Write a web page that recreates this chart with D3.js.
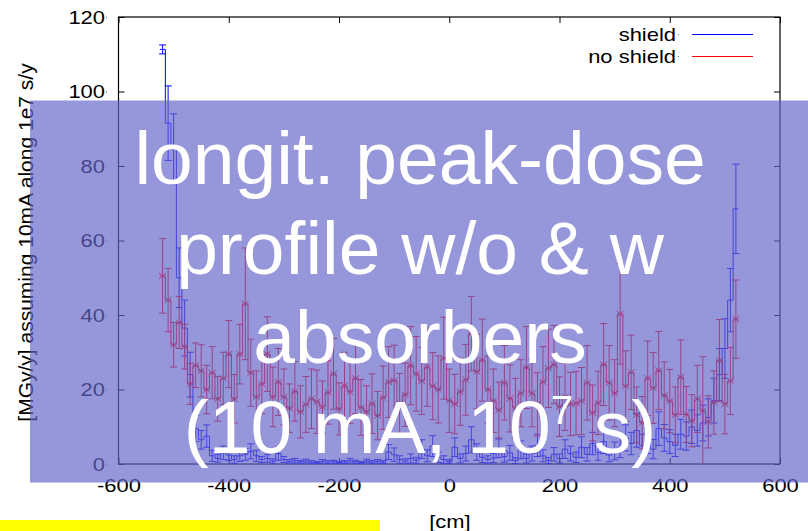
<!DOCTYPE html>
<html>
<head>
<meta charset="utf-8">
<script src="https://cdn.jsdelivr.net/npm/d3@7"></script>
<style>
  body { margin: 0; background: #fff; }
  svg { display: block; }
  text { font-family: "Liberation Sans", Arial, Helvetica, sans-serif; }
</style>
</head>
<body>
<svg id="chart" width="808" height="531"></svg>
<script>
// Bin centres along the beam line [cm]
const positions = [
  -520,-510,-500,-490,-480,-470,-460,-450,-440,-430,
  -420,-410,-400,-390,-380,-370,-360,-350,-340,-330,
  -320,-310,-300,-290,-280,-270,-260,-250,-240,-230,
  -220,-210,-200,-190,-180,-170,-160,-150,-140,-130,
  -120,-110,-100,-90,-80,-70,-60,-50,-40,-30,
  -20,-10,0,10,20,30,40,50,60,70,
  80,90,100,110,120,130,140,150,160,170,
  180,190,200,210,220,230,240,250,260,270,
  280,290,300,310,320,330,340,350,360,370,
  380,390,400,410,420,430,440,450,460,470,
  480,490,500,510,520
];

// Peak dose with absorbers [MGy/y]
const shieldDose = [
  111.3,91.5,84.5,50,36.5,24,9.5,6.5,7.5,2.2,
  1.5,3,2.4,1.2,2.2,2.6,3.4,2.2,1.2,1.5,
  0.8,2.8,1.2,0.7,0.9,0.6,0.8,0.5,0.4,0.7,
  0.5,0.6,0.4,0.5,0.9,0.6,0.4,0.8,0.5,0.7,
  0.5,3.2,2.5,1.2,0.8,1.5,1,4,2.2,4.8,
  1.8,1.2,0.6,4.5,1.5,2.8,6.5,3.2,1.8,1.2,
  1.6,4.2,2,3,0.9,3.8,1.5,2.8,5,2.2,
  0.9,2.6,1.5,4,2.8,1.8,4.5,2.6,5.5,3,
  6,2.4,3.5,4.5,7,5.5,9,5,6.2,4,
  9.5,7,6,5,8,7.5,10,9,11,12.5,
  17,24,31,44,68.5
];
const shieldErr = [
  1.2,10,9.5,8,7.5,6,3.5,2.5,3,1.5,
  1,1.8,1.5,1,1.5,1.6,2,1.5,0.8,1,
  0.6,1.8,0.8,0.5,0.6,0.4,0.5,0.4,0.3,0.5,
  0.4,0.4,0.3,0.4,0.6,0.4,0.3,0.5,0.4,0.5,
  0.4,2,1.8,1,0.6,1.2,0.8,2.5,1.6,2.8,
  1.4,1,0.5,2.5,1.2,2,3.5,2.2,1.4,1,
  1.2,2.5,1.5,2,0.8,2.4,1.2,2,3,1.6,
  0.8,1.8,1.2,2.5,2,1.4,2.8,1.8,3,2,
  3.2,1.8,2.4,2.8,3.5,3,4.5,3,3.4,2.6,
  4.5,3.6,3.2,3,4,3.8,4.5,4.2,4.8,5,
  6,7,8,8.5,12
];

// Peak dose without absorbers [MGy/y]
const noShieldDose = [
  50.5,44,32,38,31.5,21.5,26.5,25,20,24.5,
  17.5,23,29.5,17.5,29.5,43,24.5,18,21.5,29.5,
  18,22,18,15,19.5,14,16,17.5,16.7,15.3,
  19.2,24.2,14.8,21,19.4,23,15.2,14,16.2,13,
  17.8,22,22.4,16.3,18.6,26.4,24.2,22.3,26,20.9,
  20,28.4,17,16.1,19.4,22.6,35,24.8,27.9,20,
  17,14.5,21.8,17.6,15,19,25.9,19,16,22,
  25.7,26.7,15.4,18,16.1,16.3,16.9,21.8,13.7,16.4,
  26.7,21.8,19,40.3,20.9,24.6,13.2,11.1,23,20.4,
  25.1,18.4,16.9,13.2,23.3,13.3,11.6,17.5,14.3,11.3,
  16.5,27.8,16.1,22.3,38.9
];
const noShieldErr = [
  10,8.5,6,7,6,5.5,6,7,6.5,7,
  6,7,9,6.5,8,15,9,7,8,10,
  8,9,7.5,6.5,8,7,7.5,8,8.5,7,
  8.5,9.5,7,9,8.5,9.5,7.5,7,8,6.5,
  8.5,9.5,9.5,8,8.5,10.5,10,9,10.5,9,
  9,11,8.5,8,9,9.5,10,10,11,9,
  8.5,7.5,10,9,8,9,11,9,8.5,9.5,
  10.5,10.5,8,9,8.5,8.5,9,10,7.5,8.5,
  11,10,9,13.5,9.5,10,7.5,7,10,9.5,
  10.5,9,8.5,7.5,10,7.5,7,9,14.5,7,
  8.5,11,8,9,10.5
];

const xTicks = [-600, -400, -200, 0, 200, 400, 600];
const yTicks = [0, 20, 40, 60, 80, 100, 120];
const seriesNames = ["shield", "no shield"];
const seriesColors = ["#0000ff", "#ff0000"];
const xLabel = "[cm]";
const yLabel = "[MGy/y] assuming 10mA along 1e7 s/y";
const titleLines = ["longit. peak-dose", "profile w/o & w", "absorbers"];

const svg = d3.select("#chart");
const W = 808, H = 531;
const plot = { left: 118.5, right: 780, top: 17, bottom: 464 };
const stretch = 1.22;   // horizontal stretch of the plot lettering
const plainNumber = d => String(d);   // hyphen-minus, as gnuplot prints it

const x = d3.scaleLinear().domain([-600, 600]).range([plot.left, plot.right]);
const y = d3.scaleLinear().domain([0, 120]).range([plot.bottom, plot.top]);

svg.append("rect").attr("width", W).attr("height", H).attr("fill", "#fff");

svg.append("defs").append("clipPath").attr("id", "plotClip")
  .append("rect")
  .attr("x", plot.left).attr("y", plot.top)
  .attr("width", plot.right - plot.left).attr("height", plot.bottom - plot.top);

// axes with inward ticks on all four sides
const tickLen = 6;
const gx = svg.append("g").attr("transform", `translate(0,${plot.bottom})`)
  .call(d3.axisBottom(x).tickValues(xTicks).tickFormat(plainNumber)
    .tickSizeInner(-tickLen).tickSizeOuter(0).tickPadding(16));
gx.selectAll("text")
  .attr("y", 28.5).attr("dy", null)
  .attr("transform", `scale(${stretch},1)`);
svg.append("g").attr("transform", `translate(0,${plot.top})`)
  .call(d3.axisTop(x).tickValues(xTicks).tickSizeInner(-tickLen).tickSizeOuter(0).tickFormat(""));
const gy = svg.append("g").attr("transform", `translate(${plot.left},0)`)
  .call(d3.axisLeft(y).tickValues(yTicks).tickFormat(plainNumber)
    .tickSizeInner(-tickLen).tickSizeOuter(0));
gy.selectAll("text")
  .attr("x", -13.5 / stretch).attr("dy", "0.36em")
  .attr("transform", `scale(${stretch},1)`);
gy.selectAll(".tick").append("rect")
  .attr("x", -12.5).attr("y", -0.6).attr("width", 1).attr("height", 1.2).attr("fill", "#777");
svg.append("g").attr("transform", `translate(${plot.right},0)`)
  .call(d3.axisRight(y).tickValues(yTicks).tickSizeInner(-tickLen).tickSizeOuter(0).tickFormat(""));

svg.selectAll(".domain").remove();
svg.selectAll(".tick line").attr("stroke", "#000").attr("stroke-width", 1);
svg.selectAll(".tick text").attr("font-size", 18).attr("fill", "#000")
  .attr("font-family", "'Liberation Sans', Arial, sans-serif");

svg.append("rect")
  .attr("x", plot.left).attr("y", plot.top)
  .attr("width", plot.right - plot.left).attr("height", plot.bottom - plot.top)
  .attr("fill", "none").attr("stroke", "#000").attr("stroke-width", 1.2);

// axis titles
svg.append("text")
  .attr("transform", `translate(450,527.5) scale(${stretch},1)`)
  .attr("text-anchor", "middle").attr("font-size", 18).attr("fill", "#000")
  .text(xLabel);
svg.append("text")
  .attr("transform", "translate(33,242.5) rotate(-90)")
  .attr("text-anchor", "middle").attr("font-size", 21).attr("fill", "#000")
  .text(yLabel);

// data: histogram steps + error bars
const dataG = svg.append("g").attr("clip-path", "url(#plotClip)");
const halfBin = 5;
const stepLine = d3.line().x(d => x(d[0])).y(d => y(d[1])).curve(d3.curveStep);

function drawSeries(values, errs, color, markers) {
  const pts = positions.map((p, i) => [p, values[i]]);
  const ext = [[positions[0] - halfBin, values[0]], ...pts,
               [positions[positions.length - 1] + halfBin, values[values.length - 1]]];
  const g = dataG.append("g").attr("stroke", color).attr("fill", "none").attr("stroke-width", 1);
  g.append("path").attr("d", stepLine(ext));
  const cap = 3.5;
  const bars = g.selectAll("g.bar").data(pts.map((d, i) => ({ p: d[0], v: d[1], e: errs[i] })))
    .join("g").attr("class", "bar");
  bars.append("line")
    .attr("x1", d => x(d.p)).attr("x2", d => x(d.p))
    .attr("y1", d => y(d.v - d.e)).attr("y2", d => y(d.v + d.e));
  bars.append("line")
    .attr("x1", d => x(d.p) - cap).attr("x2", d => x(d.p) + cap)
    .attr("y1", d => y(d.v + d.e)).attr("y2", d => y(d.v + d.e));
  bars.append("line")
    .attr("x1", d => x(d.p) - cap).attr("x2", d => x(d.p) + cap)
    .attr("y1", d => y(d.v - d.e)).attr("y2", d => y(d.v - d.e));
  if (markers) {
    bars.append("path")
      .attr("transform", d => `translate(${x(d.p)},${y(d.v)})`)
      .attr("d", "M-3.5,-3L3.5,3M-3.5,3L3.5,-3");
  }
}
drawSeries(shieldDose, shieldErr, seriesColors[0], false);
drawSeries(noShieldDose, noShieldErr, seriesColors[1], true);

// legend
const legend = svg.append("g");
seriesNames.forEach((name, i) => {
  const ly = 34.5 + i * 22;
  legend.append("text")
    .attr("transform", `translate(676,${ly + 6.5}) scale(${stretch},1)`)
    .attr("text-anchor", "end").attr("font-size", 18).attr("fill", "#000")
    .text(name);
  legend.append("rect").attr("x", 678).attr("y", ly - 0.5).attr("width", 1).attr("height", 1.2).attr("fill", "#777");
  legend.append("line")
    .attr("x1", 692).attr("x2", 753).attr("y1", ly).attr("y2", ly)
    .attr("stroke", seriesColors[i]).attr("stroke-width", 1);
});

// translucent caption panel
svg.append("rect")
  .attr("x", 30).attr("y", 100.5).attr("width", 778).attr("height", 382)
  .attr("fill", "rgb(100,100,200)").attr("fill-opacity", 0.68);

const cap = svg.append("g").attr("fill", "#fff").attr("font-size", 75).attr("text-anchor", "middle");
const baselines = [184, 273.5, 363, 452.5];
titleLines.forEach((t, i) => {
  cap.append("text").attr("x", 420).attr("y", baselines[i]).text(t);
});
const last = cap.append("text").attr("x", 420).attr("y", baselines[3]);
last.append("tspan").text("(10 mA, 10");
last.append("tspan").attr("font-size", 40).attr("dy", -29).text("7");
last.append("tspan").attr("dy", 29).text(" s)");

// yellow strip along the lower edge
svg.append("rect").attr("x", 0).attr("y", 520).attr("width", 380).attr("height", 11).attr("fill", "#ffff00");
</script>
</body>
</html>
